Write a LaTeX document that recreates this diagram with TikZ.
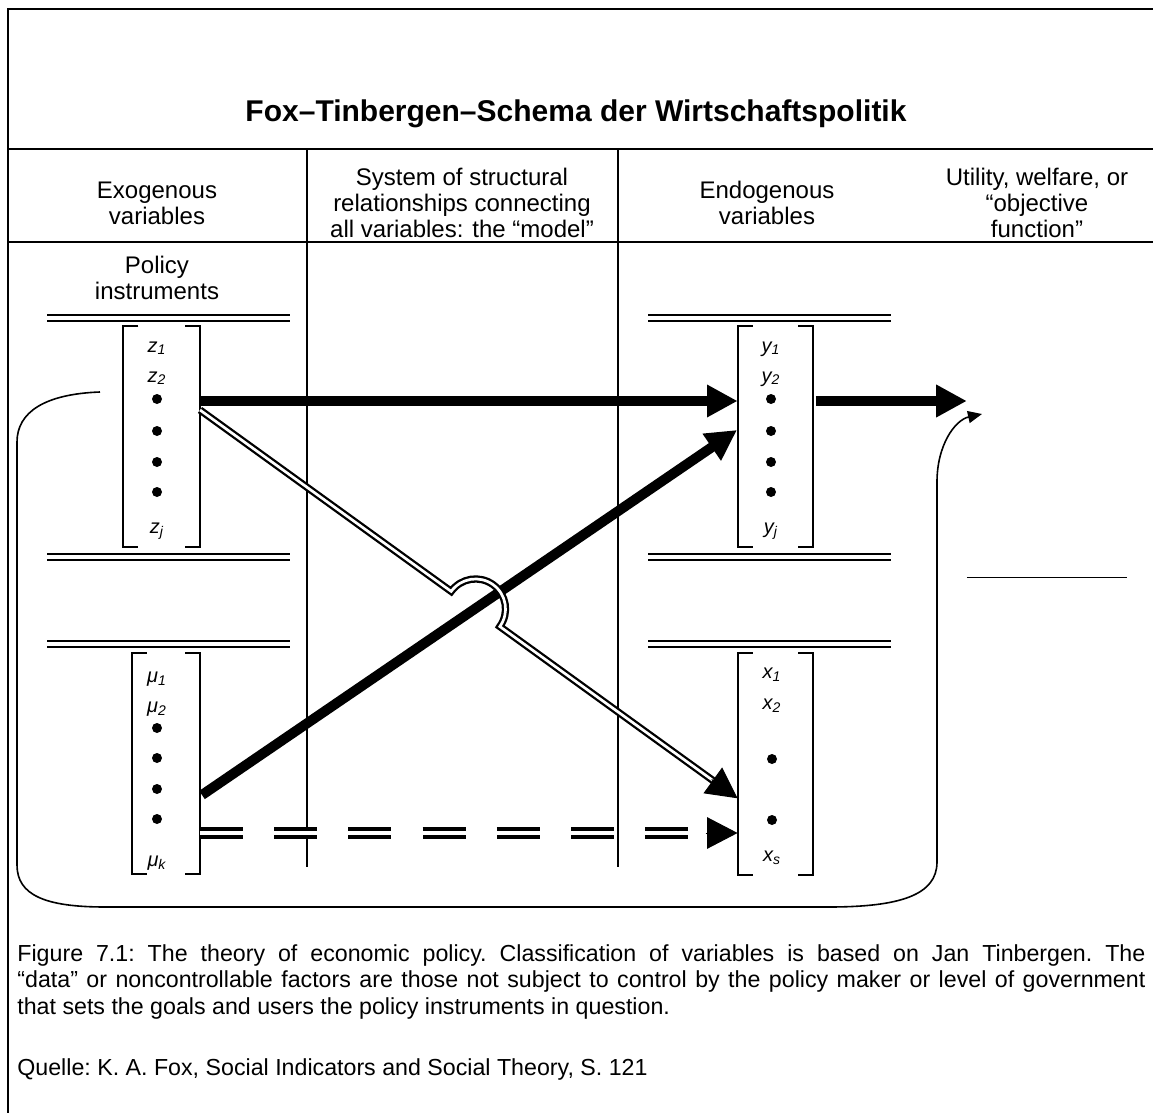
\documentclass[tikz,border=0pt]{standalone}
\usepackage{fontspec}
\setmainfont{Liberation Sans}
\usetikzlibrary{arrows.meta,calc,positioning}

\tikzset{
  frameline/.style={line width=1.1pt},
  colline/.style={line width=1pt},
  rail/.style={line width=1.15pt, double=white, double distance=1.7pt},
  bracket/.style={line width=1pt},
  entry/.style={font=\itshape, anchor=base, inner sep=0pt},
  vdot/.style={circle, fill, inner sep=0pt, minimum size=5pt},
  headtext/.style={align=center, inner sep=0pt, font=\fontsize{12}{13}\selectfont},
  bigarrow/.style={line width=5pt, -{Triangle[length=15.3pt, width=15.3pt]}},
  bridge/.style={line width=1.15pt, double=white, double distance=1.35pt, shorten >=14pt},
  datadash/.style={line width=2pt, double=white, double distance=2.1pt, dash pattern=on 21.5pt off 15.6pt, shorten >=14pt},
  headonly/.style={line width=0.5pt, -{Triangle[length=15.3pt, width=15.8pt]}},
  feedback/.style={line width=0.8pt, -{Triangle[length=7pt, width=6pt]}},
  captiontext/.style={inner sep=0pt, font=\fontsize{11.6}{13.3}\selectfont\frenchspacing},
}

% square bracket round a column vector, from its corners #1-nw and #1-se
\newcommand{\vecbracket}[1]{%
  \draw[bracket] ([xshift=7.5pt]#1-nw) -- (#1-nw) -- (#1-nw |- #1-se) -- ([xshift=7.5pt]#1-nw |- #1-se);
  \draw[bracket] ([xshift=-7.5pt]#1-se |- #1-nw) -- (#1-se |- #1-nw) -- (#1-se) -- ([xshift=-7.5pt]#1-se);
}

\begin{document}
\begin{tikzpicture}[x=0.5pt, y=-0.5pt, font=\fontsize{12}{13.8}\selectfont]
    \useasboundingbox (0,0) rectangle (1153,1113);

    % frame and table rules
    \draw[frameline] (8,1113) -- (8,9) -- (1153,9);
    \draw[frameline] (8,149) -- (1153,149);
    \draw[frameline] (8,242) -- (1153,242);
    \draw[colline] (306.7,149) -- (306.7,867);
    \draw[colline] (617.6,149) -- (617.6,867);

    \node[font=\fontsize{15}{17}\selectfont\bfseries] (title) at (576,114) {Fox–Tinbergen–Schema der Wirtschaftspolitik};

    % column heads
    \node[headtext] (exo) at (157,203) {Exogenous\\variables};
    \node[headtext] (model) at (462,203) {System of structural\\relationships connecting\\all variables: the “model”};
    \node[headtext] (endo) at (767,203) {Endogenous\\variables};
    \node[headtext] (util) at (1037,203) {Utility, welfare, or\\“objective\\function”};
    \node[headtext] (policy) at (157,278) {Policy\\instruments};

    % double rails
    \foreach \y in {318,557,644} {
        \draw[rail] (47,\y) -- (290,\y);
        \draw[rail] (648,\y) -- (891,\y);
    }

    % vectors
    \coordinate (zvec-nw) at (123.3,325.7);  \coordinate (zvec-se) at (200,546.7);
    \coordinate (yvec-nw) at (737.6,326);    \coordinate (yvec-se) at (813.4,547);
    \coordinate (muvec-nw) at (131.7,652.7); \coordinate (muvec-se) at (200,874);
    \coordinate (xvec-nw) at (737.6,652.7);  \coordinate (xvec-se) at (813.4,875);
    \foreach \v in {zvec,yvec,muvec,xvec} {\vecbracket{\v}}

    \node[entry] (z1) at (157,352) {z\textsubscript{1}};
    \node[entry] (z2) at (157,382) {z\textsubscript{2}};
    \node[entry] (zj) at (157,533) {z\textsubscript{j}};
    \node[entry] (y1) at (771,352) {y\textsubscript{1}};
    \node[entry] (y2) at (771,382) {y\textsubscript{2}};
    \node[entry] (yj) at (771,533) {y\textsubscript{j}};
    \foreach \y [count=\i] in {399,431,462,492} {
        \node[vdot] (zd\i) at (157,\y) {};
        \node[vdot] (yd\i) at (771,\y) {};
    }

    \node[entry] (mu1) at (157,682) {μ\textsubscript{1}};
    \node[entry] (mu2) at (157,712) {μ\textsubscript{2}};
    \node[entry] (muk) at (157,866) {μ\textsubscript{k}};
    \foreach \y [count=\i] in {728,758,789,819} {
        \node[vdot] (mud\i) at (157,\y) {};
    }
    \node[entry] (x1) at (772,678) {x\textsubscript{1}};
    \node[entry] (x2) at (772,709) {x\textsubscript{2}};
    \node[entry] (xs) at (772,861) {x\textsubscript{s}};
    \node[vdot] (xd1) at (772,759) {};
    \node[vdot] (xd2) at (772,820) {};

    % connectors
    \coordinate (zport1) at (200,401);    \coordinate (yport1) at (737.6,401);
    \coordinate (yport2) at (815.9,401);  \coordinate (goal) at (966.8,401);
    \coordinate (muport1) at (202,795);   \coordinate (yport3) at (737,430);
    \coordinate (zport2) at (200,410);    \coordinate (xport1) at (737.6,798.3);
    \coordinate (bridgeA) at (451.2,591.4);
    \coordinate (muport2) at (200,833);   \coordinate (xport2) at (737.6,833);

    \draw[bigarrow] (zport1) -- (yport1);
    \draw[bigarrow] (yport2) -- (goal);
    \draw[bigarrow] (muport1) -- (yport3);
    \draw[bridge] (zport2) -- (bridgeA) arc[start angle=144.16, end angle=-35.84, radius=15pt] -- (xport1);
    \draw[headonly] ($(xport1)!16pt!(zport2)$) -- (xport1);
    \draw[datadash] (muport2) -- (xport2);
    \draw[headonly] ($(xport2)!16pt!(muport2)$) -- (xport2);

    % feedback loop
    \coordinate (fbstart) at (100,392);
    \coordinate (fbend) at (982,414);
    \draw[feedback] (fbstart) .. controls (45,394) and (17,412) .. (17,442) -- (17,865)
        .. controls (17,895) and (45,907) .. (105,907) -- (829,907)
        .. controls (900,907) and (937,895) .. (937,862) -- (937,482)
        .. controls (937,445) and (955,420) .. (fbend);
    \draw[line width=0.8pt] (966.8,577.3) -- (1127.3,577.3);

    % caption
    \node[captiontext, anchor=north west, text width=564pt, align=justify] (caption) at (17,944)
        {Figure 7.1: The theory of economic policy. Classification of variables is based on Jan Tinbergen. The\linebreak
         “data” or noncontrollable factors are those not subject to control by the policy maker or level of government\linebreak
         that sets the goals and users the policy instruments in question.};
    \node[captiontext, anchor=base west] (source) at (17,1075) {Quelle: K. A. Fox, Social Indicators and Social Theory, S. 121};
\end{tikzpicture}
\end{document}
